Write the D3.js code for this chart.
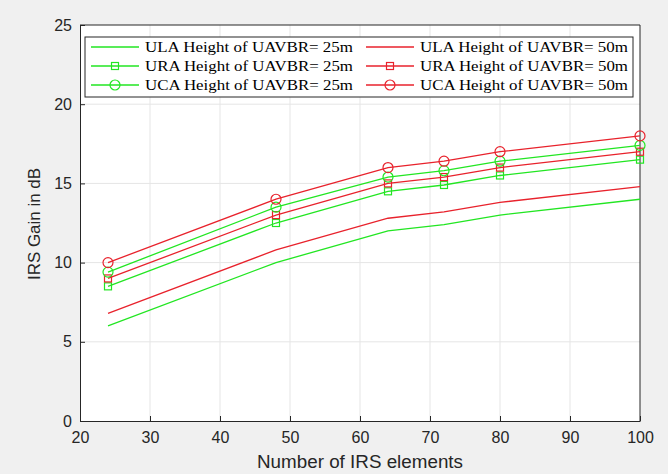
<!DOCTYPE html>
<html>
<head>
<meta charset="utf-8">
<script src="https://cdn.jsdelivr.net/npm/d3@7"></script>
<style>
  body { margin: 0; background: #f0f0f0; }
  svg { display: block; }
</style>
</head>
<body>
<div id="chart"></div>
<script>
// data
var elements = [24, 48, 64, 72, 80, 100];
var ula25 = [6.0, 10.0, 12.0, 12.4, 13.0, 14.0];
var ura25 = [8.5, 12.5, 14.5, 14.9, 15.5, 16.5];
var uca25 = [9.4, 13.5, 15.4, 15.8, 16.4, 17.4];
var ula50 = [6.8, 10.8, 12.8, 13.2, 13.8, 14.8];
var ura50 = [9.0, 13.0, 15.0, 15.4, 16.0, 17.0];
var uca50 = [10.0, 14.0, 16.0, 16.4, 17.0, 18.0];
var xTicks = [20, 30, 40, 50, 60, 70, 80, 90, 100];
var yTicks = [0, 5, 10, 15, 20, 25];

var green = "#22e622", red = "#e8222c";

var series = [
  {name: "ULA Height of UAVBR= 25m", values: ula25, color: green, marker: "none"},
  {name: "ULA Height of UAVBR= 50m", values: ula50, color: red, marker: "none"},
  {name: "URA Height of UAVBR= 25m", values: ura25, color: green, marker: "square"},
  {name: "URA Height of UAVBR= 50m", values: ura50, color: red, marker: "square"},
  {name: "UCA Height of UAVBR= 25m", values: uca25, color: green, marker: "circle"},
  {name: "UCA Height of UAVBR= 50m", values: uca50, color: red, marker: "circle"}
];

var W = 668, H = 474;
var margin = {top: 25, right: 28, bottom: 53, left: 80},
    width = W - margin.left - margin.right,
    height = H - margin.top - margin.bottom;

var svg = d3.select("#chart").append("svg")
    .attr("width", W)
    .attr("height", H)
    .style("background", "#f0f0f0");

var g = svg.append("g")
    .attr("transform", "translate(" + margin.left + "," + margin.top + ")");

var x = d3.scaleLinear().domain([20, 100]).range([0, width]);
var y = d3.scaleLinear().domain([0, 25]).range([height, 0]);

g.append("rect")
  .attr("width", width)
  .attr("height", height)
  .attr("fill", "white");

// grid
g.append("g").selectAll("line").data(xTicks.slice(1, -1)).enter().append("line")
  .attr("x1", d => x(d)).attr("x2", d => x(d))
  .attr("y1", 0).attr("y2", height)
  .attr("stroke", "#e5e5e5");
g.append("g").selectAll("line").data(yTicks.slice(1, -1)).enter().append("line")
  .attr("y1", d => y(d)).attr("y2", d => y(d))
  .attr("x1", 0).attr("x2", width)
  .attr("stroke", "#e5e5e5");

// axes
var xAxis = g.append("g")
  .attr("transform", "translate(0," + height + ")")
  .call(d3.axisBottom(x).tickValues(xTicks).tickSizeInner(-5).tickSizeOuter(0).tickPadding(11));
var yAxis = g.append("g")
  .call(d3.axisLeft(y).tickValues(yTicks).tickSizeInner(-5).tickSizeOuter(0).tickPadding(8));
[xAxis, yAxis].forEach(function(a) {
  a.selectAll("path, line").attr("stroke", "#262626");
  a.selectAll("text")
    .attr("fill", "#262626")
    .style("font-family", "'Liberation Sans', Arial, sans-serif")
    .style("font-size", "16px");
});

// top/right box
g.append("line").attr("x1", 0).attr("x2", width).attr("y1", 0).attr("y2", 0).attr("stroke", "#262626");
g.append("line").attr("x1", width).attr("x2", width).attr("y1", 0).attr("y2", height).attr("stroke", "#262626");

// lines
var line = d3.line()
  .x((d, i) => x(elements[i]))
  .y(d => y(d));

series.forEach(function(s) {
  g.append("path")
    .datum(s.values)
    .attr("fill", "none")
    .attr("stroke", s.color)
    .attr("stroke-width", 1.3)
    .attr("d", line);
  drawMarkers(g, s, s.values.map((v, i) => [x(elements[i]), y(v)]));
});

function drawMarkers(sel, s, pts) {
  if (s.marker === "square") {
    sel.append("g").selectAll("rect").data(pts).enter().append("rect")
      .attr("x", d => d[0] - 3.5).attr("y", d => d[1] - 3.5)
      .attr("width", 7).attr("height", 7)
      .attr("fill", "none").attr("stroke", s.color).attr("stroke-width", 1.2);
  } else if (s.marker === "circle") {
    sel.append("g").selectAll("circle").data(pts).enter().append("circle")
      .attr("cx", d => d[0]).attr("cy", d => d[1]).attr("r", 5)
      .attr("fill", "none").attr("stroke", s.color).attr("stroke-width", 1.2);
  }
}

// legend
var legend = svg.append("g").attr("transform", "translate(85,37)");
legend.append("rect")
  .attr("width", 548).attr("height", 60)
  .attr("fill", "white").attr("stroke", "#262626");
series.forEach(function(s, i) {
  var col = i % 2, row = Math.floor(i / 2);
  var lx = 6 + col * 275, ly = 10 + row * 19;
  var item = legend.append("g").attr("transform", "translate(" + lx + "," + ly + ")");
  item.append("line")
    .attr("x1", 0).attr("x2", 48).attr("y1", 0).attr("y2", 0)
    .attr("stroke", s.color).attr("stroke-width", 1.3);
  drawMarkers(item, s, [[24, 0]]);
  item.append("text")
    .attr("x", 54).attr("y", 5)
    .attr("textLength", 208)
    .attr("lengthAdjust", "spacingAndGlyphs")
    .style("font-family", "'Liberation Serif', 'Times New Roman', serif")
    .style("font-size", "15px")
    .attr("fill", "#000")
    .text(s.name);
});

// axis titles
svg.append("text")
  .attr("x", margin.left + width / 2).attr("y", 468)
  .attr("text-anchor", "middle")
  .attr("textLength", 206)
  .attr("lengthAdjust", "spacingAndGlyphs")
  .attr("fill", "#262626")
  .style("font-family", "'Liberation Sans', Arial, sans-serif")
  .style("font-size", "18px")
  .text("Number of IRS elements");
svg.append("text")
  .attr("transform", "translate(40,224) rotate(-90)")
  .attr("text-anchor", "middle")
  .attr("textLength", 112)
  .attr("lengthAdjust", "spacingAndGlyphs")
  .attr("fill", "#262626")
  .style("font-family", "'Liberation Sans', Arial, sans-serif")
  .style("font-size", "17px")
  .text("IRS Gain in dB");
</script>
</body>
</html>
